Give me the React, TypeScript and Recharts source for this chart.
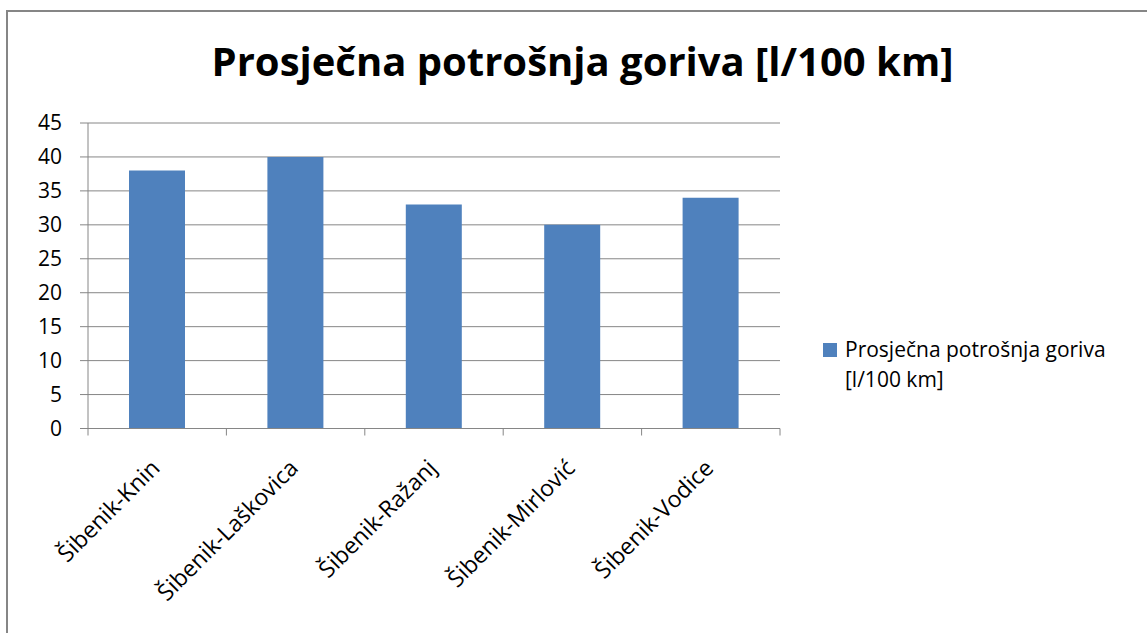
import React from "react";
import { BarChart, Bar, XAxis, YAxis, CartesianGrid, Legend } from "recharts";

const FONT = "'Open Sans', 'Noto Sans', sans-serif";
const GRAY = "#868686";
const BAR_COLOR = "#4F81BD";

const TITLE = "Prosječna potrošnja goriva [l/100 km]";
const SERIES_NAME = "Prosječna potrošnja goriva [l/100 km]";
const routes = ["Šibenik-Knin", "Šibenik-Laškovica", "Šibenik-Ražanj", "Šibenik-Mirlović", "Šibenik-Vodice"];
const consumption = [38, 40, 33, 30, 34];
const yTicks = [0, 5, 10, 15, 20, 25, 30, 35, 40, 45];

const data = routes.map((name, i) => ({ name, value: consumption[i] }));

// category label rotated like Excel, plus tick marks on the band edges
function CategoryTick(props: any) {
  const { x, y, payload, index, visibleTicksCount, width } = props;
  let half = payload && typeof payload.offset === "number" && payload.offset > 0 ? payload.offset : 0;
  if (!half && width && visibleTicksCount) half = width / visibleTicksCount / 2;
  const last = index === visibleTicksCount - 1;
  return (
    <g>
      <line x1={x - half} x2={x - half} y1={y} y2={y + 7} stroke={GRAY} />
      {last && <line x1={x + half} x2={x + half} y1={y} y2={y + 7} stroke={GRAY} />}
      <g transform={`translate(${x + 4},${y + 41})`}>
        <text textAnchor="end" transform="rotate(-45)" fontSize={23} fontFamily={FONT} fill="#000">
          {payload.value}
        </text>
      </g>
    </g>
  );
}

function renderLegend() {
  const cut = SERIES_NAME.indexOf(" [");
  return (
    <div
      style={{
        display: "flex",
        alignItems: "flex-start",
        fontFamily: FONT,
        fontSize: 21,
        lineHeight: "30px",
        color: "#000",
        textAlign: "left",
      }}
    >
      <span
        style={{ width: 14, height: 14, background: BAR_COLOR, marginTop: 9, marginRight: 8, flex: "none" }}
      />
      <div>
        <div>{SERIES_NAME.slice(0, cut)}</div>
        <div>{SERIES_NAME.slice(cut + 1)}</div>
      </div>
    </div>
  );
}

export default function App() {
  return (
    <div
      style={{
        position: "absolute",
        left: 0,
        top: 0,
        width: 1147,
        height: 633,
        overflow: "hidden",
        background: "#fff",
      }}
    >
      <div
        style={{
          position: "absolute",
          left: 6,
          top: 10,
          width: 1147,
          height: 633,
          borderTop: `2px solid ${GRAY}`,
          borderLeft: `2px solid ${GRAY}`,
        }}
      />
      <div
        style={{
          position: "absolute",
          left: 0,
          top: 35,
          width: 1165,
          textAlign: "center",
          fontFamily: FONT,
          fontWeight: 700,
          fontSize: 40,
          lineHeight: "52px",
          color: "#000",
          whiteSpace: "nowrap",
        }}
      >
        {TITLE}
      </div>
      <BarChart
        width={1147}
        height={633}
        data={data}
        margin={{ top: 123, right: 367, left: 28, bottom: 4.5 }}
        style={{ position: "absolute", left: 0, top: 0 }}
      >
        <CartesianGrid vertical={false} stroke={GRAY} strokeWidth={1} />
        <XAxis
          dataKey="name"
          height={200}
          interval={0}
          axisLine={{ stroke: GRAY }}
          tickLine={false}
          tickSize={0}
          tickMargin={0}
          tick={CategoryTick}
        />
        <YAxis
          domain={[0, 45]}
          ticks={yTicks}
          interval={0}
          width={60}
          tickSize={8}
          tickMargin={18}
          axisLine={{ stroke: GRAY }}
          tickLine={{ stroke: GRAY }}
          tick={{ fontSize: 21, fontFamily: FONT, fill: "#000" }}
        />
        <Legend
          layout="horizontal"
          verticalAlign="middle"
          align="center"
          content={renderLegend}
          wrapperStyle={{ left: 823, top: 334, width: 320 }}
        />
        <Bar dataKey="value" name={SERIES_NAME} fill={BAR_COLOR} barSize={56} isAnimationActive={false} />
      </BarChart>
    </div>
  );
}
